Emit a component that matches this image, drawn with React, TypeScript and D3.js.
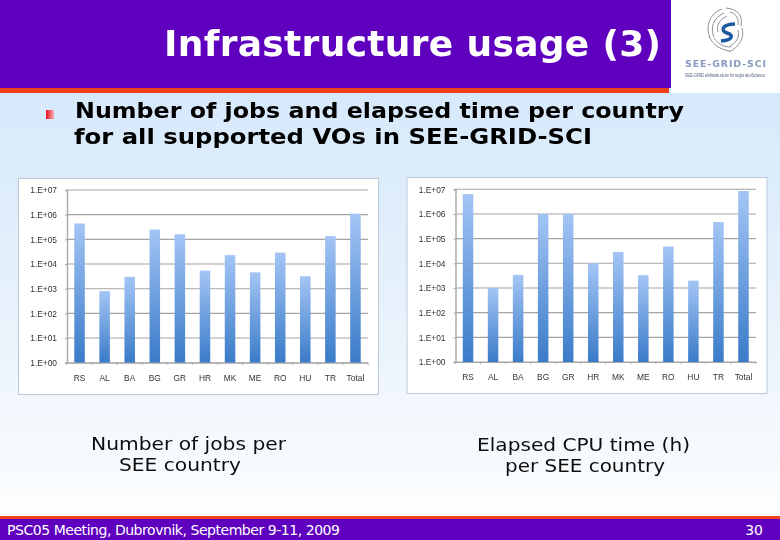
import React, { useEffect, useRef } from "react";
import * as d3 from "d3";

const countries = ["RS", "AL", "BA", "BG", "GR", "HR", "MK", "ME", "RO", "HU", "TR", "Total"];
const jobs = [440000, 800, 3000, 250000, 160000, 5400, 23000, 4600, 29000, 3200, 135000, 1100000];
const cpuHours = [6400000, 1000, 3400, 1000000, 1000000, 10000, 29000, 3300, 48000, 2000, 470000, 8500000];
const logTicks = [1, 10, 100, 1000, 10000, 100000, 1000000, 10000000];
const tickLabels = ["1.E+00", "1.E+01", "1.E+02", "1.E+03", "1.E+04", "1.E+05", "1.E+06", "1.E+07"];

const W = 780;
const H = 540;

interface PanelProps {
  values: number[];
  box: { x: number; y: number; w: number; h: number };
  plot: { x0: number; x1: number; top: number; bottom: number };
}

const BarPanel: React.FC<PanelProps> = ({ values, box, plot }) => {
  const ref = useRef<SVGGElement>(null);

  useEffect(() => {
    const g = d3.select(ref.current!);
    g.selectAll("*").remove();

    const x = d3.scaleBand<string>().domain(countries).range([plot.x0, plot.x1]).paddingInner(0.58).paddingOuter(0.29);
    const y = d3.scaleLog().domain([1, 1e7]).range([plot.bottom, plot.top]);

    g.append("rect")
      .attr("x", box.x)
      .attr("y", box.y)
      .attr("width", box.w)
      .attr("height", box.h)
      .attr("fill", "#ffffff")
      .attr("stroke", "#bccad8")
      .attr("stroke-width", 1);

    // gridlines
    g.append("g")
      .selectAll("line")
      .data(logTicks)
      .enter()
      .append("line")
      .attr("x1", plot.x0)
      .attr("x2", plot.x1)
      .attr("y1", (d) => y(d))
      .attr("y2", (d) => y(d))
      .attr("stroke", "#a4a4a4")
      .attr("stroke-width", 1.1);

    g.append("g")
      .selectAll("rect")
      .data(values)
      .enter()
      .append("rect")
      .attr("x", (_, i) => x(countries[i]) || 0)
      .attr("width", x.bandwidth())
      .attr("y", (d) => y(d))
      .attr("height", (d) => plot.bottom - y(d))
      .attr("fill", "url(#barFill)");

    const yAxis = g
      .append("g")
      .attr("transform", `translate(${plot.x0},0)`)
      .call(
        d3
          .axisLeft(y)
          .tickValues(logTicks)
          .tickFormat((_, i) => tickLabels[i])
          .tickSize(2)
          .tickPadding(8)
      );
    yAxis.select(".domain").attr("stroke", "#a8a8a8").attr("stroke-width", 1.4);
    yAxis.selectAll("line").attr("stroke", "#a8a8a8");
    yAxis
      .selectAll("text")
      .attr("font-family", "Liberation Sans")
      .attr("font-size", 8.4)
      .attr("fill", "#333");

    const xAxis = g
      .append("g")
      .attr("transform", `translate(0,${plot.bottom})`)
      .call(d3.axisBottom(x).tickSize(0).tickPadding(12));
    xAxis.select(".domain").attr("stroke", "#a8a8a8").attr("stroke-width", 1.1);
    xAxis
      .selectAll("text")
      .attr("font-family", "Liberation Sans")
      .attr("font-size", 8.4)
      .attr("fill", "#333");

    // small ticks between the categories
    g.append("g")
      .selectAll("line")
      .data(d3.range(countries.length + 1))
      .enter()
      .append("line")
      .attr("x1", (i) => plot.x0 + (i * (plot.x1 - plot.x0)) / countries.length)
      .attr("x2", (i) => plot.x0 + (i * (plot.x1 - plot.x0)) / countries.length)
      .attr("y1", plot.bottom)
      .attr("y2", plot.bottom + 2)
      .attr("stroke", "#a8a8a8");
  }, [values, box, plot]);

  return <g ref={ref} filter="url(#soft)" />;
};

const Logo: React.FC = () => (
  <g filter="url(#soft)">
    <rect x={671} y={0} width={109} height={93} fill="#ffffff" />
    <g fill="none" stroke="#8d9199" strokeWidth={1}>
      <path d="M722 9 C710 13 705 26 710 38" />
      <path d="M724 13 C713 18 710 28 714 37" />
      <path d="M727 16 C719 20 716 26 718 32" />
      <path d="M726 8 C738 9 743 16 741 26" />
      <path d="M730 12 C737 14 739 20 738 25" />
      <path d="M709 36 C713 46 722 50 730 51" />
      <path d="M714 38 C718 44 724 47 731 47" />
      <path d="M742 28 C745 38 739 47 729 52" />
      <path d="M738 30 C740 37 736 43 730 46" />
    </g>
    <path d="M735 24 C722 24 720 31 727 33 C734 35 733 40 721 41" fill="none" stroke="#1f5aa0" strokeWidth={3.4} />
    <text x={725.5} y={67} textAnchor="middle" fontFamily="DejaVu Sans" fontWeight="bold" fontSize={9.4} fill="#8a9ac0" textLength={81}>
      SEE-GRID-SCI
    </text>
    <text x={725} y={77} textAnchor="middle" fontFamily="Liberation Sans" fontSize={4.6} fill="#6a7590" textLength={81}>
      SEE-GRID eInfrastructure for regional eScience
    </text>
  </g>
);

export default function App() {
  const leftBox = { x: 18.5, y: 178.5, w: 360, h: 216 };
  const leftPlot = { x0: 67, x1: 368, top: 190, bottom: 362.7 };
  const rightBox = { x: 407, y: 177.5, w: 360, h: 216 };
  const rightPlot = { x0: 455.5, x1: 756, top: 189.3, bottom: 362 };

  return (
    <svg
      width={W}
      height={H}
      viewBox={`0 0 ${W} ${H}`}
      style={{ position: "absolute", left: 0, top: 0, display: "block" }}
    >
      <defs>
        <linearGradient id="slideBg" x1="0" y1="0" x2="0" y2="1">
          <stop offset="0" stopColor="#cfe5fb" />
          <stop offset="0.55" stopColor="#e6f1fb" />
          <stop offset="1" stopColor="#ffffff" />
        </linearGradient>
        <linearGradient id="barFill" x1="0" y1="0" x2="0" y2="1">
          <stop offset="0" stopColor="#a3c5f5" />
          <stop offset="1" stopColor="#3a7bc8" />
        </linearGradient>
        <linearGradient id="bullet" x1="0" y1="0" x2="1" y2="0">
          <stop offset="0" stopColor="#e8101c" />
          <stop offset="1" stopColor="#f7b0b8" />
        </linearGradient>
        <filter id="soft" x="-2%" y="-2%" width="104%" height="104%">
          <feGaussianBlur stdDeviation="0.35" />
        </filter>
      </defs>

      <rect x={0} y={0} width={W} height={H} fill="url(#slideBg)" />

      {/* header */}
      <rect x={0} y={0} width={671} height={88} fill="#5f00bf" />
      <rect x={0} y={88} width={669} height={5} fill="#f0401a" />
      <Logo />
      <text x={164} y={56} fontFamily="DejaVu Sans" fontWeight="bold" fontSize={36} fill="#ffffff" textLength={497} filter="url(#soft)">
        Infrastructure usage (3)
      </text>

      {/* bullet text */}
      <rect x={46} y={110} width={8} height={9} fill="url(#bullet)" />
      <g fontFamily="DejaVu Sans" fontWeight="bold" fontSize={22} fill="#000000" filter="url(#soft)">
        <text x={75} y={118} textLength={609} lengthAdjust="spacingAndGlyphs">Number of jobs and elapsed time per country</text>
        <text x={74} y={144} textLength={518} lengthAdjust="spacingAndGlyphs">for all supported VOs in SEE-GRID-SCI</text>
      </g>

      <BarPanel values={jobs} box={leftBox} plot={leftPlot} />
      <BarPanel values={cpuHours} box={rightBox} plot={rightPlot} />

      {/* captions */}
      <g fontFamily="DejaVu Sans" fontSize={18} fill="#111111" filter="url(#soft)">
        <text x={91} y={450} textLength={195} lengthAdjust="spacingAndGlyphs">Number of jobs per</text>
        <text x={119} y={471} textLength={122} lengthAdjust="spacingAndGlyphs">SEE country</text>
        <text x={477} y={451} textLength={213} lengthAdjust="spacingAndGlyphs">Elapsed CPU time (h)</text>
        <text x={505} y={472} textLength={160} lengthAdjust="spacingAndGlyphs">per SEE country</text>
      </g>

      {/* footer */}
      <rect x={0} y={516} width={W} height={3} fill="#f0401a" />
      <rect x={0} y={519} width={W} height={21} fill="#5f00bf" />
      <text x={7} y={535} fontFamily="DejaVu Sans" fontSize={14} fill="#ffffff" textLength={333}>
        PSC05 Meeting, Dubrovnik, September 9-11, 2009
      </text>
      <text x={763} y={535} textAnchor="end" fontFamily="DejaVu Sans" fontSize={14} fill="#ffffff">
        30
      </text>
    </svg>
  );
}
